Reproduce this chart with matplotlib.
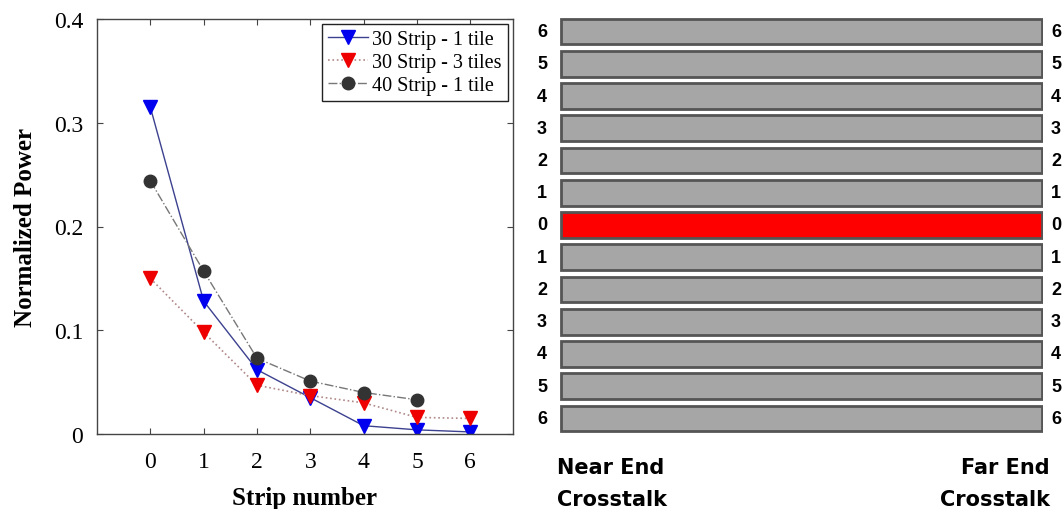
import numpy as np
import matplotlib.pyplot as plt
import matplotlib.transforms as mtransforms

# ---- data ----
strips = [0, 1, 2, 3, 4, 5, 6]
strip30_1tile = [0.315, 0.128, 0.062, 0.035, 0.008, 0.004, 0.002]
strip30_3tiles = [0.150, 0.098, 0.047, 0.037, 0.030, 0.016, 0.015]
strips40 = [0, 1, 2, 3, 4, 5]
strip40_1tile = [0.244, 0.157, 0.073, 0.051, 0.040, 0.033]

bar_labels = ['6', '5', '4', '3', '2', '1', '0', '1', '2', '3', '4', '5', '6']
aggressor = '0'

W, H = 1064, 510
fig = plt.figure(figsize=(W / 100, H / 100), dpi=100)

serif = 'Liberation Serif'
sans = 'Liberation Sans'

# ---- left panel: normalized power vs strip number ----
ax = fig.add_axes([97 / W, 1 - 435 / H, (513 - 97) / W, (435 - 20) / H])
ax.plot(strips, strip30_1tile, '-', color='#3c418f', lw=1.0,
        marker='v', ms=10, mfc='#0000ee', mec='#0000ee', label='30 Strip - 1 tile')
ax.plot(strips, strip30_3tiles, ':', color='#b08888', lw=1.2,
        marker='v', ms=10, mfc='#ee0000', mec='#ee0000', label='30 Strip - 3 tiles')
ax.plot(strips40, strip40_1tile, '-.', color='#777777', lw=1.0,
        marker='o', ms=9, mfc='#333333', mec='#333333', label='40 Strip - 1 tile')

ax.set_xlim(-1, 6.8)
ax.set_ylim(0, 0.4)
ax.set_xticks(strips)
ax.set_yticks([0, 0.1, 0.2, 0.3, 0.4])
ax.set_yticklabels(['0', '0.1', '0.2', '0.3', '0.4'])
ax.tick_params(direction='in', top=True, right=True, length=4, width=0.8,
               labelsize=17, color='#444444')
ax.tick_params(axis='y', pad=10)
ax.tick_params(axis='x', pad=12)
for lab in ax.get_xticklabels() + ax.get_yticklabels():
    lab.set_family(serif)
for sp in ax.spines.values():
    sp.set_color('#444444')
    sp.set_linewidth(1.0)
ax.set_xlabel('Strip number', family=serif, fontweight='bold', fontsize=18, labelpad=10)
ax.set_ylabel('Normalized Power', family=serif, fontweight='bold', fontsize=18, labelpad=12)

leg = ax.legend(loc='upper right', prop={'family': serif, 'size': 14.5},
                fancybox=False, framealpha=1, edgecolor='#222222',
                handlelength=2.0, handletextpad=0.2, borderpad=0.3,
                labelspacing=0.2, borderaxespad=0.25)
leg.get_frame().set_linewidth(1.0)

# ---- right panel: strip layout ----
bx = fig.add_axes([560 / W, 1 - 434 / H, (1043 - 560) / W, (434 - 18) / H])
ypos = np.arange(len(bar_labels))[::-1]
colors = ['#ff0000' if (l == aggressor) else '#a6a6a6' for l in bar_labels]
bx.barh(ypos, [1] * len(bar_labels), height=0.8, left=0, color=colors,
        edgecolor='#555555', linewidth=2)
bx.set_xlim(-0.003, 1.003)
bx.set_ylim(-0.45, 12.45)
bx.set_xticks([])
bx.set_yticks([])
for sp in bx.spines.values():
    sp.set_visible(False)

# strip numbers on both ends of each strip
trans = mtransforms.blended_transform_factory(fig.transFigure, bx.transData)
for y, lab in zip(ypos, bar_labels):
    bx.text(542 / W, y, lab, transform=trans, family=sans, fontweight='bold',
            fontsize=13, ha='center', va='center')
    bx.text(1056 / W, y, lab, transform=trans, family=sans, fontweight='bold',
            fontsize=13, ha='center', va='center')

bottom_font = dict(family='DejaVu Sans', fontweight='bold', fontsize=15, va='center')
fig.text(557 / W, 1 - 468 / H, 'Near End', ha='left', **bottom_font)
fig.text(557 / W, 1 - 500 / H, 'Crosstalk', ha='left', **bottom_font)
fig.text(1050 / W, 1 - 468 / H, 'Far End', ha='right', **bottom_font)
fig.text(1050 / W, 1 - 500 / H, 'Crosstalk', ha='right', **bottom_font)

fig.savefig('out.png', dpi=100)
